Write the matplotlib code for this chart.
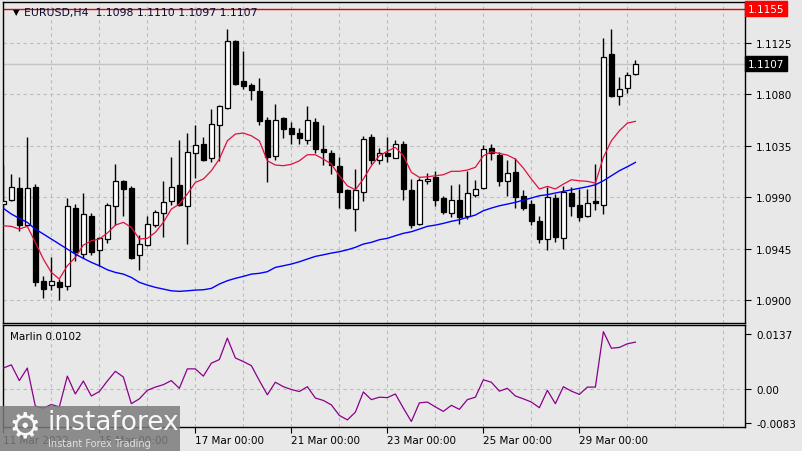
import matplotlib
matplotlib.use("Agg")
import matplotlib.pyplot as plt
from matplotlib.patches import Rectangle
import matplotlib.transforms as mtransforms

# EURUSD H4, 80 bars from 11 Mar 2022 00:00
opens = [1.0984, 1.0988, 1.0998, 1.0966, 1.0999, 1.0917, 1.0913, 1.0916, 1.0912, 1.0981,
         1.0940, 1.0974, 1.0944, 1.0953, 1.0982, 1.1004, 1.0998, 1.0939, 1.0948, 1.0966,
         1.0976, 1.0987, 1.1001, 1.0982, 1.1029, 1.1037, 1.1024, 1.1053, 1.1068, 1.1127,
         1.1092, 1.1088, 1.1083, 1.1058, 1.1026, 1.1059, 1.1051, 1.1046, 1.1040, 1.1056,
         1.1032, 1.1029, 1.1017, 1.0996, 1.0980, 1.0995, 1.1043, 1.1023, 1.1029, 1.1024,
         1.1037, 1.0996, 1.0967, 1.1004, 1.1008, 1.0989, 1.0976, 1.0988, 1.0974, 1.0992,
         1.0998, 1.1033, 1.1027, 1.1004, 1.1012, 1.0991, 1.0984, 1.0969, 1.0953, 1.0989,
         1.0954, 1.0994, 1.0983, 1.0974, 1.0987, 1.0983, 1.1115, 1.1079, 1.1086, 1.1098]
highs = [1.1018, 1.1010, 1.1008, 1.1043, 1.1002, 1.0921, 1.0938, 1.0918, 1.0989, 1.0984,
         1.0994, 1.0976, 1.0955, 1.0985, 1.1019, 1.1005, 1.1000, 1.0957, 1.0974, 1.0979,
         1.1004, 1.1025, 1.1040, 1.1046, 1.1053, 1.1043, 1.1067, 1.1071, 1.1137, 1.1128,
         1.1118, 1.1090, 1.1094, 1.1060, 1.1072, 1.1060, 1.1056, 1.1051, 1.1070, 1.1059,
         1.1053, 1.1031, 1.1025, 1.0997, 1.1015, 1.1044, 1.1045, 1.1033, 1.1043, 1.1040,
         1.1039, 1.1006, 1.1007, 1.1011, 1.1013, 1.0991, 1.1001, 1.1002, 1.1013, 1.1005,
         1.1036, 1.1037, 1.1030, 1.1023, 1.1024, 1.0996, 1.0988, 1.0974, 1.0999, 1.0993,
         1.1000, 1.0999, 1.0997, 1.0997, 1.1019, 1.1129, 1.1137, 1.1095, 1.1100, 1.1110]
lows = [1.0981, 1.0987, 1.0960, 1.0965, 1.0912, 1.0902, 1.0909, 1.0900, 1.0909, 1.0934,
        1.0937, 1.0939, 1.0930, 1.0950, 1.0966, 1.0974, 1.0936, 1.0926, 1.0947, 1.0964,
        1.0955, 1.0983, 1.0982, 1.0949, 1.1007, 1.1022, 1.1021, 1.1022, 1.1067, 1.1088,
        1.1085, 1.1075, 1.1053, 1.1003, 1.1023, 1.1042, 1.1037, 1.1037, 1.1037, 1.1029,
        1.1018, 1.1010, 1.0981, 1.0980, 1.0960, 1.0987, 1.1019, 1.1019, 1.1021, 1.1024,
        1.0988, 1.0963, 1.0966, 1.1002, 1.0982, 1.0975, 1.0973, 1.0967, 1.0971, 1.0990,
        1.0997, 1.1023, 1.1000, 1.0991, 1.0981, 1.0979, 1.0966, 1.0950, 1.0944, 1.0951,
        1.0945, 1.0974, 1.0969, 1.0973, 1.0979, 1.0975, 1.1078, 1.1071, 1.1081, 1.1097]
closes = [1.0987, 1.0999, 1.0966, 1.0998, 1.0916, 1.0910, 1.0917, 1.0911, 1.0982, 1.0942,
          1.0975, 1.0942, 1.0954, 1.0983, 1.1004, 1.0997, 1.0937, 1.0949, 1.0967, 1.0977,
          1.0986, 1.0999, 1.0983, 1.1030, 1.1036, 1.1023, 1.1054, 1.1070, 1.1127, 1.1089,
          1.1087, 1.1084, 1.1057, 1.1025, 1.1058, 1.1050, 1.1045, 1.1042, 1.1058, 1.1032,
          1.1030, 1.1018, 1.0995, 1.0981, 1.0996, 1.1041, 1.1023, 1.1029, 1.1026, 1.1037,
          1.0997, 1.0966, 1.1005, 1.1006, 1.0988, 1.0977, 1.0988, 1.0973, 1.0994, 1.0997,
          1.1032, 1.1029, 1.1004, 1.1011, 1.0990, 1.0981, 1.0969, 1.0953, 1.0990, 1.0955,
          1.0995, 1.0982, 1.0973, 1.0985, 1.0985, 1.1113, 1.1079, 1.1085, 1.1097, 1.1107]

# moving averages
ma_fast = [1.09650, 1.09645, 1.09621, 1.09645, 1.09505, 1.09359, 1.09242, 1.09184, 1.09300, 1.09374,
           1.09481, 1.09519, 1.09534, 1.09586, 1.09656, 1.09680, 1.09636, 1.09534, 1.09540, 1.09592,
           1.09680, 1.09796, 1.09840, 1.09928, 1.10030, 1.10059, 1.10132, 1.10234, 1.10394, 1.10453,
           1.10462, 1.10438, 1.10394, 1.10219, 1.10182, 1.10176, 1.10188, 1.10219, 1.10272, 1.10272,
           1.10234, 1.10190, 1.10088, 1.10000, 1.09965, 1.10059, 1.10176, 1.10263, 1.10302, 1.10337,
           1.10263, 1.10118, 1.10074, 1.10079, 1.10088, 1.10097, 1.10127, 1.10127, 1.10138, 1.10162,
           1.10263, 1.10298, 1.10284, 1.10269, 1.10234, 1.10155, 1.10059, 1.09972, 1.09995, 1.09972,
           1.10015, 1.10053, 1.10044, 1.10039, 1.10024, 1.10249, 1.10394, 1.10482, 1.10549, 1.10564]
ma_slow = [1.09803, 1.09753, 1.09715, 1.09680, 1.09621, 1.09578, 1.09534, 1.09490, 1.09446, 1.09402,
           1.09365, 1.09330, 1.09300, 1.09265, 1.09242, 1.09227, 1.09198, 1.09155, 1.09131, 1.09111,
           1.09096, 1.09081, 1.09076, 1.09081, 1.09087, 1.09090, 1.09102, 1.09140, 1.09169, 1.09190,
           1.09207, 1.09227, 1.09234, 1.09248, 1.09286, 1.09300, 1.09315, 1.09335, 1.09359, 1.09382,
           1.09396, 1.09411, 1.09423, 1.09440, 1.09461, 1.09490, 1.09505, 1.09528, 1.09540, 1.09563,
           1.09584, 1.09598, 1.09621, 1.09645, 1.09656, 1.09671, 1.09689, 1.09703, 1.09724, 1.09744,
           1.09782, 1.09805, 1.09825, 1.09840, 1.09855, 1.09875, 1.09893, 1.09913, 1.09922, 1.09937,
           1.09951, 1.09965, 1.09978, 1.09992, 1.10009, 1.10044, 1.10088, 1.10132, 1.10167, 1.10205]

marlin = [0.0052, 0.0060, 0.0021, 0.0052, -0.0042, -0.0047, -0.0038, -0.0044, 0.0032, -0.0012,
          0.0020, -0.0017, -0.0006, 0.0020, 0.0044, 0.0030, -0.0036, -0.0024, -0.0003, 0.0005,
          0.0011, 0.0021, 0.0002, 0.0050, 0.0050, 0.0032, 0.0064, 0.0073, 0.0126, 0.0077,
          0.0068, 0.0058, 0.0021, -0.0014, 0.0017, 0.0006, -0.0001, -0.0006, 0.0006, -0.0022,
          -0.0028, -0.0039, -0.0065, -0.0076, -0.0057, -0.0007, -0.0026, -0.0020, -0.0021, -0.0012,
          -0.0047, -0.0080, -0.0034, -0.0032, -0.0044, -0.0055, -0.0040, -0.0050, -0.0026, -0.0020,
          0.0023, 0.0017, -0.0005, 0.0002, -0.0017, -0.0024, -0.0032, -0.0046, -0.0003, -0.0036,
          0.0006, -0.0005, -0.0013, 0.0005, 0.0005, 0.0142, 0.0101, 0.0103, 0.0112, 0.0116]

price_ticks = [1.0900, 1.0945, 1.0990, 1.1035, 1.1080, 1.1125]
marlin_ticks = [0.0137, 0.0, -0.0083]
marlin_tick_labels = ["0.0137", "0.00", "-0.0083"]
date_pos = [0, 12, 24, 36, 48, 60, 72]
date_labels = ["11 Mar 2022", "15 Mar 00:00", "17 Mar 00:00", "21 Mar 00:00",
               "23 Mar 00:00", "25 Mar 00:00", "29 Mar 00:00"]
last_price = 1.1107
alert_price = 1.1155

bg = "#e8e8e8"
grid_c = "#bcbcbc"
plt.rcParams["font.family"] = "DejaVu Sans"
plt.rcParams["font.size"] = 7.5

W, H = 802, 452
fig = plt.figure(figsize=(W / 100, H / 100), dpi=100, facecolor=bg)
ax = fig.add_axes([3 / W, 1 - 324 / H, 742 / W, 321 / H], facecolor=bg)
ax2 = fig.add_axes([3 / W, 1 - 428 / H, 742 / W, 102 / H], facecolor=bg)

x = list(range(len(closes)))
xmin, xmax = -0.04, 92.7

# grid
for a in (ax, ax2):
    for g in range(0, 93, 6):
        a.axvline(g, color=grid_c, lw=0.8, ls=(0, (3, 3)), zorder=0)
    for s in a.spines.values():
        s.set_color("black")
        s.set_linewidth(1.0)
for p in price_ticks:
    ax.axhline(p, color=grid_c, lw=0.8, ls=(0, (3, 3)), zorder=0)
ax2.axhline(0.0, color=grid_c, lw=0.8, ls=(0, (3, 3)), zorder=0)

# price lines
ax.axhline(last_price, color="#c4c4c4", lw=1.0, zorder=1)
ax.axhline(alert_price, color="#e00000", lw=1.0, zorder=1)

# candles
ax.vlines(x, lows, highs, color="black", lw=1.0, zorder=2)
bottoms = [min(o, c) for o, c in zip(opens, closes)]
heights = [max(abs(c - o), 0.00012) for o, c in zip(opens, closes)]
fills = ["white" if c >= o else "black" for o, c in zip(opens, closes)]
ax.bar(x, heights, bottom=bottoms, width=0.6, color=fills, edgecolor="black",
       linewidth=0.9, zorder=3)

ax.plot(x, ma_fast, color="#e0103c", lw=0.9, zorder=4)
ax.plot(x, ma_slow, color="#0000ff", lw=1.0, zorder=4)

ax.set_xlim(xmin, xmax)
ax.set_ylim(1.08799, 1.11609)
ax.yaxis.tick_right()
ax.set_yticks(price_ticks)
ax.set_yticklabels(["%.4f" % p for p in price_ticks])
ax.tick_params(axis="y", direction="out", length=4, pad=4, colors="black")
ax.set_xticks([])

ax.text(10 / 742, 1 - 10 / 321, "\u25bc", transform=ax.transAxes, fontsize=6,
        va="center", ha="left", color="black")
ax.text(21 / 742, 1 - 10 / 321, "EURUSD,H4  1.1098 1.1110 1.1097 1.1107",
        transform=ax.transAxes, fontsize=7.8, va="center", ha="left", color="#0a0a30")

trans = mtransforms.blended_transform_factory(ax.transAxes, ax.transData)
ax.text(1.004, last_price, "1.1107", transform=trans, color="white", fontsize=7.5,
        va="center", ha="left", clip_on=False,
        bbox=dict(boxstyle="square,pad=0.25", fc="black", ec="black"))
ax.text(1.004, alert_price, "1.1155", transform=trans, color="white", fontsize=7.5,
        va="center", ha="left", clip_on=False,
        bbox=dict(boxstyle="square,pad=0.25", fc="#ff0000", ec="#ff0000"))

# Marlin oscillator
ax2.plot(x, marlin, color="#8b008b", lw=0.9, zorder=3)
ax2.set_xlim(xmin, xmax)
ax2.set_ylim(-0.00936, 0.01584)
ax2.yaxis.tick_right()
ax2.set_yticks(marlin_ticks)
ax2.set_yticklabels(marlin_tick_labels)
ax2.tick_params(axis="y", direction="out", length=4, pad=4, colors="black")
ax2.set_xticks(date_pos)
ax2.set_xticklabels(date_labels)
for lbl in ax2.get_xticklabels():
    lbl.set_horizontalalignment("left")
ax2.tick_params(axis="x", direction="out", length=4, pad=2, colors="black")
ax2.text(7 / 742, 1 - 11 / 102, "Marlin 0.0102", transform=ax2.transAxes,
         fontsize=7.5, va="center", ha="left", color="black")

# watermark
fig.add_artist(Rectangle((0, 0), 180 / W, 45 / H, transform=fig.transFigure,
                         facecolor="#7c7c7c", edgecolor="none", alpha=0.85, zorder=10))
fig.text(25 / W, 1 - 427 / H, "\u2699", fontsize=26, color="white",
         va="center", ha="center", zorder=12, alpha=0.95)
fig.text(47 / W, 1 - 423 / H, "instaforex", fontsize=19, color="white",
         va="center", ha="left", zorder=12, alpha=0.95)
fig.text(48 / W, 1 - 444 / H, "Instant Forex Trading", fontsize=7, color="#e0e0e0",
         va="center", ha="left", zorder=12)

fig.savefig("out.png", dpi=100, facecolor=bg)
